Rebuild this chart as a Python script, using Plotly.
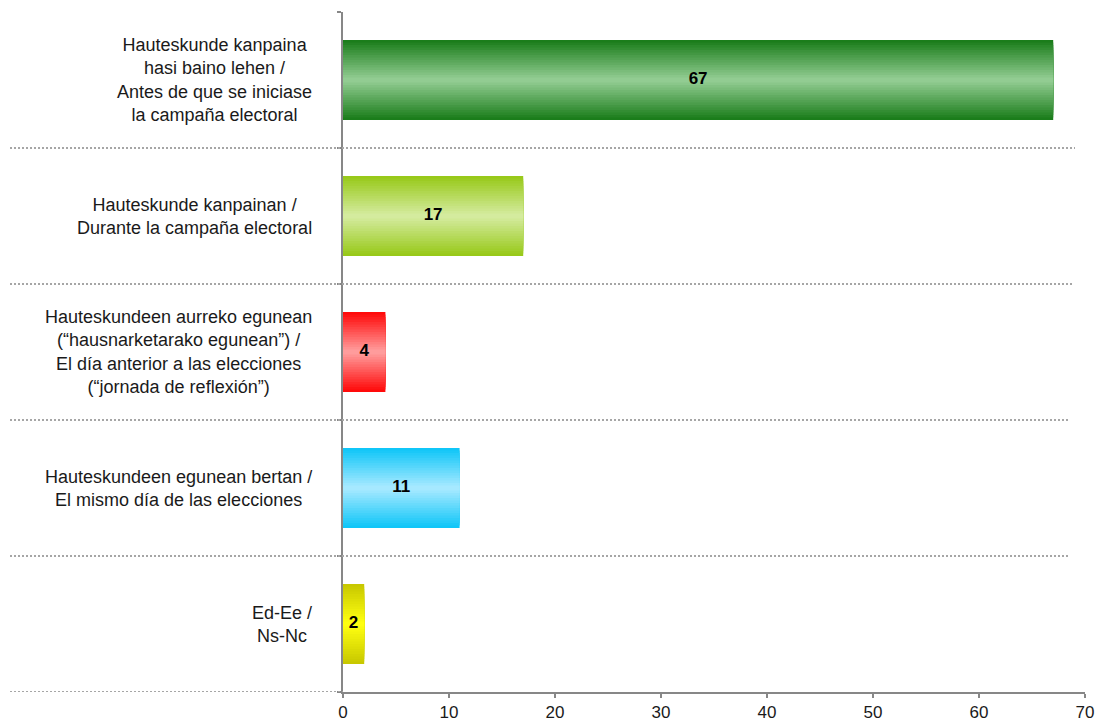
import plotly.graph_objects as go

categories = [
    "Hauteskunde kanpaina<br>hasi baino lehen /<br>Antes de que se iniciase<br>la campaña electoral",
    "Hauteskunde kanpainan /<br>Durante la campaña electoral",
    "Hauteskundeen aurreko egunean<br>(“hausnarketarako egunean”) /<br>El día anterior a las elecciones<br>(“jornada de reflexión”)",
    "Hauteskundeen egunean bertan /<br>El mismo día de las elecciones",
    "Ed-Ee /<br>Ns-Nc",
]
values = [67, 17, 4, 11, 2]
edge_colors = ["#1b7d1b", "#98c91a", "#ff0a0a", "#10c6f8", "#c8c800"]
center_colors = ["#92cc92", "#d4eb9e", "#ff9c9c", "#a6e9ff", "#ffff10"]
x_ticks = [0, 10, 20, 30, 40, 50, 60, 70]


def hex2rgb(h):
    h = h.lstrip("#")
    return tuple(int(h[i:i + 2], 16) for i in (0, 2, 4))


def mix(a, b, t):
    ra, rb = hex2rgb(a), hex2rgb(b)
    return "rgb(%d,%d,%d)" % tuple(round(ra[i] + (rb[i] - ra[i]) * t) for i in range(3))


ypos = list(range(len(categories)))
fig = go.Figure()

N = 16
bar_w = 0.59
for k in range(N):
    t = k / (N - 1)
    w = bar_w * (1 - k / N)
    fig.add_trace(go.Bar(
        x=values, y=ypos, orientation="h", width=w,
        marker=dict(color=[mix(e, c, t) for e, c in zip(edge_colors, center_colors)],
                    line=dict(width=0)),
        hoverinfo="skip", showlegend=False,
    ))

fig.add_trace(go.Scatter(
    x=[v / 2 for v in values], y=ypos, mode="text",
    text=["<b>%d</b>" % v for v in values],
    textfont=dict(size=17, color="#000000", family="Liberation Sans, Arial"),
    showlegend=False, hoverinfo="skip",
))

L, R, T, B = 343, 13, 12, 30
W, H = 1098, 722
pw = W - L - R

for i, cat in enumerate(categories):
    fig.add_annotation(
        x=(314 - L) / pw, xref="paper", y=i, yref="y",
        text=cat, showarrow=False, xanchor="right", yanchor="middle", align="center",
        font=dict(size=18, color="#1a1a1a", family="Liberation Sans, Arial"),
    )

ends = [1075, 1073, 1068, 1070]
for i, xe in enumerate(ends):
    fig.add_shape(type="line", xref="paper", yref="y",
                  x0=(10 - L) / pw, x1=(xe - L) / pw, y0=i + 0.5, y1=i + 0.5,
                  line=dict(color="#a6a6a6", width=2, dash="2px,2px"))
fig.add_shape(type="line", xref="paper", yref="y",
              x0=(10 - L) / pw, x1=0, y0=len(categories) - 0.5, y1=len(categories) - 0.5,
              line=dict(color="#a6a6a6", width=2, dash="2px,2px"))

fig.update_layout(
    width=W, height=H, barmode="overlay",
    margin=dict(l=L, r=R, t=T, b=B, autoexpand=False),
    paper_bgcolor="white", plot_bgcolor="white",
    font=dict(family="Liberation Sans, Arial", size=18, color="#1a1a1a"),
    showlegend=False,
)
fig.update_xaxes(
    range=[0, 70], tickvals=x_ticks, showgrid=False, zeroline=False, automargin=False,
    showline=True, linecolor="#878787", linewidth=2,
    ticks="outside", ticklen=4, tickwidth=2, tickcolor="#878787",
    tickfont=dict(size=17, color="#1a1a1a"),
)
fig.update_yaxes(
    range=[len(categories) - 0.5, -0.5], showgrid=False, zeroline=False, automargin=False,
    showline=True, linecolor="#878787", linewidth=2,
    tickvals=[i - 0.5 for i in range(len(categories) + 1)],
    showticklabels=False, ticks="outside", ticklen=4, tickwidth=2, tickcolor="#878787",
)

fig.write_html(
    "out.html",
    config={"displayModeBar": False},
    post_script="document.body.style.margin='0';document.documentElement.style.overflow='hidden';",
)
